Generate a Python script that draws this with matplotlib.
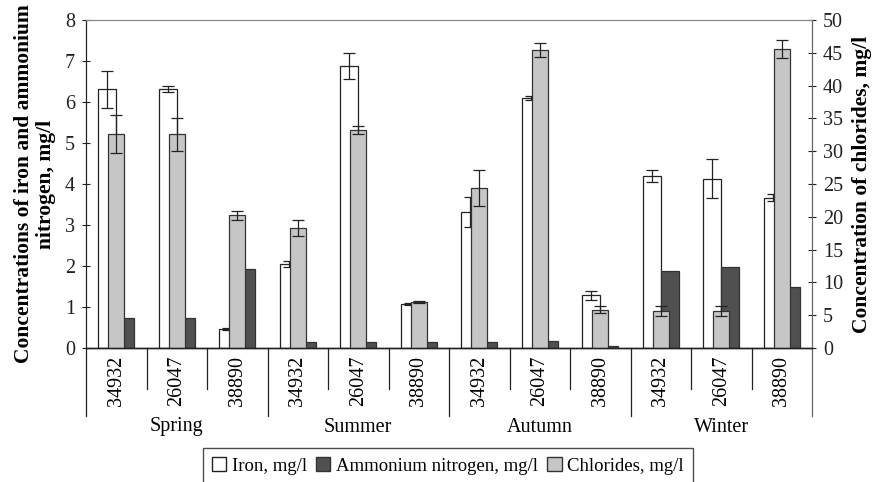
import numpy as np
import matplotlib
matplotlib.use("Agg")
import matplotlib.pyplot as plt
from matplotlib.transforms import blended_transform_factory
from matplotlib.patches import Patch

plt.rcParams['font.family'] = ['Liberation Serif', 'DejaVu Serif']

# data
seasons = ['Spring', 'Summer', 'Autumn', 'Winter']
stations = ['34932', '26047', '38890']

iron = [6.31, 6.31, 0.46, 2.05, 6.88, 1.08, 3.32, 6.10, 1.29, 4.20, 4.13, 3.67]
iron_err = [0.45, 0.07, 0.02, 0.07, 0.31, 0.02, 0.36, 0.04, 0.11, 0.15, 0.48, 0.08]
ammonium = [0.73, 0.73, 1.93, 0.15, 0.15, 0.15, 0.15, 0.17, 0.05, 1.87, 1.98, 1.50]
chlorides = [32.6, 32.6, 20.2, 18.3, 33.2, 7.0, 24.4, 45.4, 5.85, 5.65, 5.65, 45.6]
chlorides_err = [2.9, 2.5, 0.7, 1.2, 0.6, 0.1, 2.8, 1.1, 0.5, 0.8, 0.8, 1.4]

W, H = 876, 482
fig = plt.figure(figsize=(W / 100, H / 100), dpi=100)
ax = fig.add_axes([86 / W, 1 - 348 / H, (812 - 86) / W, (348 - 20) / H])
ax2 = ax.twinx()

x = np.arange(len(iron))
bw = 0.30
ax.bar(x - bw / 2, iron, bw, color='white', edgecolor='#222222', linewidth=0.9, zorder=2)
ax.bar(x + bw / 2, ammonium, bw, color='#505050', edgecolor='#333333', linewidth=0.9, zorder=2)
ax.errorbar(x - bw / 2, iron, yerr=iron_err, fmt='none', ecolor='#222222',
            elinewidth=0.9, capsize=4, capthick=0.9, zorder=3)

ax2.bar(x, chlorides, 0.26, color='#c6c6c6', edgecolor='#333333', linewidth=0.9, zorder=2)
ax2.errorbar(x, chlorides, yerr=chlorides_err, fmt='none', ecolor='#222222',
             elinewidth=0.9, capsize=4, capthick=0.9, zorder=3)

ax.set_xlim(-0.5, len(iron) - 0.5)
ax.set_ylim(0, 8)
ax2.set_ylim(0, 50)
ax.set_yticks(range(0, 9))
ax2.set_yticks(range(0, 51, 5))
ax.set_xticks([])
ax.tick_params(axis='y', labelsize=14.5, direction='inout', length=6, pad=5, colors='#222222')
ax2.tick_params(axis='y', labelsize=14.5, direction='inout', length=6, pad=5, colors='#222222')

for a in (ax, ax2):
    a.spines['top'].set_color('#888888')
    a.spines['left'].set_color('#222222')
    a.spines['right'].set_color('#666666')
    a.spines['bottom'].set_color('#222222')
    a.spines['bottom'].set_linewidth(1.0)

ax.set_ylabel('Concentrations of iron and ammonium\nnitrogen, mg/l', fontsize=15.5,
              fontweight='bold', labelpad=6, linespacing=1.15)
ax2.set_ylabel('Concentration of chlorides, mg/l', fontsize=15.5, fontweight='bold', labelpad=6)

# multi-level category axis
tr = blended_transform_factory(ax.transData, fig.transFigure)
fy = lambda px: 1 - px / H
for i in range(len(iron) + 1):
    b = i - 0.5
    low = 416 if i % 3 == 0 else 389
    col = '#666666' if i == len(iron) else '#222222'
    ax.plot([b, b], [fy(348), fy(low)], transform=tr, color=col, lw=0.9, clip_on=False)
for i in range(len(iron)):
    ax.text(i, fy(381), stations[i % 3], transform=tr, rotation=90, ha='center', va='center',
            fontsize=14.5)
for j, s in enumerate(seasons):
    ax.text(3 * j + 1, fy(427), s, transform=tr, ha='center', va='center', fontsize=14.5)

handles = [Patch(facecolor='white', edgecolor='#222222', label='Iron, mg/l'),
           Patch(facecolor='#505050', edgecolor='#333333', label='Ammonium nitrogen, mg/l'),
           Patch(facecolor='#c6c6c6', edgecolor='#333333', label='Chlorides, mg/l')]
leg = fig.legend(handles=handles, loc='center', bbox_to_anchor=(448 / W, fy(466)), ncol=3,
                 fontsize=13.5, frameon=True, fancybox=False, handlelength=0.75,
                 handleheight=0.75, handletextpad=0.3, columnspacing=0.5,
                 borderpad=0.5, borderaxespad=0)
leg.get_frame().set_edgecolor('#222222')
leg.get_frame().set_linewidth(1.0)

fig.savefig('out.png', dpi=100)
